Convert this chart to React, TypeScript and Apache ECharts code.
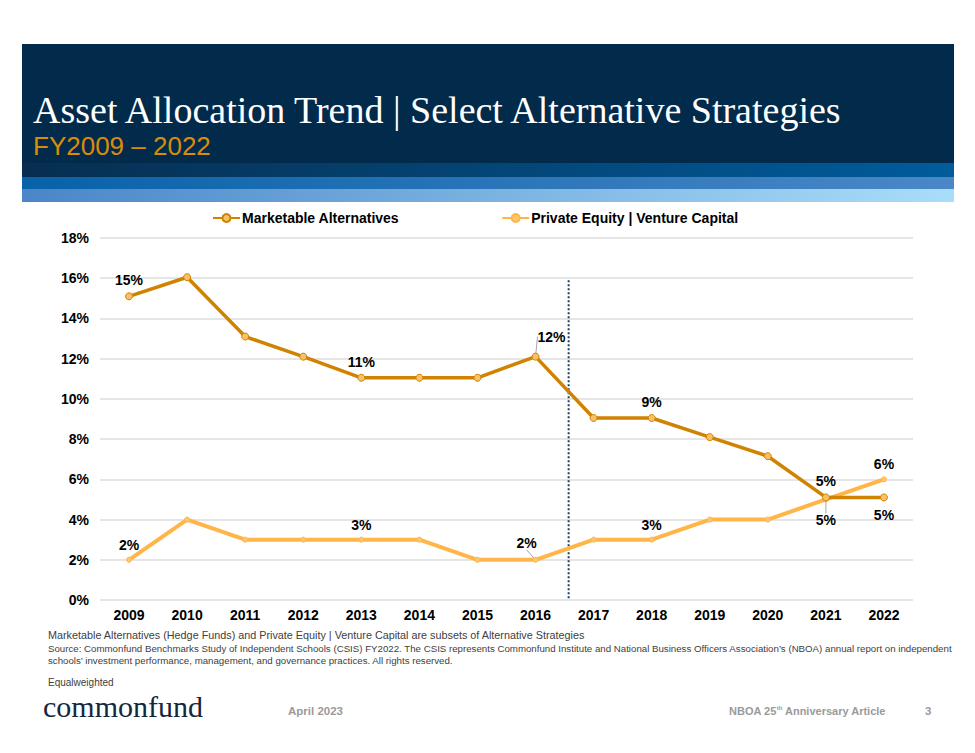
import React, { useEffect, useRef } from "react";
import * as echarts from "echarts";

const years = ["2009", "2010", "2011", "2012", "2013", "2014", "2015", "2016", "2017", "2018", "2019", "2020", "2021", "2022"];
const marketableAlternatives = [15.1, 16.05, 13.1, 12.1, 11.05, 11.05, 11.05, 12.1, 9.05, 9.05, 8.1, 7.15, 5.1, 5.1];
const privateEquityVC = [2, 4, 3, 3, 3, 3, 2, 2, 3, 3, 4, 4, 5, 6];
const maLabels: Record<number, string> = { 0: "15%", 4: "11%", 7: "12%", 9: "9%", 12: "5%", 13: "5%" };
const peLabels: Record<number, string> = { 0: "2%", 4: "3%", 7: "2%", 9: "3%", 12: "5%", 13: "6%" };
const yTicks = { min: 0, max: 18, interval: 2 };

const MA_COLOR = "#D08300";
const PE_COLOR = "#FFB547";
const FONT = "'Liberation Sans', Arial, sans-serif";
const NARROW = "'Liberation Sans Narrow', 'Liberation Sans', Arial, sans-serif";

export default function App() {
  const ref = useRef<HTMLDivElement>(null);
  useEffect(() => {
    document.body.style.margin = "0";
    const chart = echarts.init(ref.current!, null, { renderer: "svg" });

    const labelStyle = { fontFamily: FONT, fontWeight: "bold" as const, fontSize: 14, color: "#000" };

    const maData = marketableAlternatives.map((v, i) => {
      if (!maLabels[i]) return v;
      return {
        value: v,
        label: { show: true, formatter: maLabels[i], position: i === 13 ? "bottom" : "top", ...labelStyle, distance: i === 13 ? 7 : 5 },
        labelLine: i === 7 ? { show: true, lineStyle: { color: "#A6A6A6", width: 1 } } : undefined,
      };
    });
    const peData = privateEquityVC.map((v, i) => {
      if (!peLabels[i]) return v;
      return {
        value: v,
        label: { show: true, formatter: peLabels[i], position: i === 12 ? "bottom" : "top", ...labelStyle, distance: i === 12 ? 7 : 5 },
        labelLine: i === 7 || i === 12 ? { show: true, lineStyle: { color: "#A6A6A6", width: 1 } } : undefined,
      };
    });

    const header: any[] = [
      { type: "rect", shape: { x: 22, y: 44, width: 932, height: 120 }, style: { fill: "#022B4B" } },
      {
        type: "rect", shape: { x: 22, y: 163, width: 932, height: 14 },
        style: { fill: new echarts.graphic.LinearGradient(0, 0, 1, 0, [{ offset: 0, color: "#072E50" }, { offset: 1, color: "#005C9C" }]) },
      },
      {
        type: "rect", shape: { x: 22, y: 177, width: 932, height: 12 },
        style: { fill: new echarts.graphic.LinearGradient(0, 0, 1, 0, [{ offset: 0, color: "#0762A9" }, { offset: 1, color: "#4B87C7" }]) },
      },
      {
        type: "rect", shape: { x: 22, y: 189, width: 932, height: 13 },
        style: { fill: new echarts.graphic.LinearGradient(0, 0, 1, 0, [{ offset: 0, color: "#4A86C8" }, { offset: 1, color: "#AADDF9" }]) },
      },
      {
        type: "text", left: 33, top: 91,
        style: { text: "Asset Allocation Trend | Select Alternative Strategies", fill: "#FFFFFF", font: "38px 'Liberation Serif', 'DejaVu Serif', serif", lineHeight: 38 },
      },
      {
        type: "text", left: 33, top: 133,
        style: { text: "FY2009 – 2022", fill: "#D98B0A", font: "26px " + FONT, lineHeight: 26 },
      },
      {
        type: "text", left: 48, top: 629,
        style: { text: "Marketable Alternatives (Hedge Funds) and Private Equity | Venture Capital are subsets of Alternative Strategies", fill: "#404040", font: "10.8px " + NARROW },
      },
      {
        type: "text", left: 48, top: 643,
        style: { text: "Source: Commonfund Benchmarks Study of Independent Schools (CSIS) FY2022. The CSIS represents Commonfund Institute and National Business Officers Association’s (NBOA) annual report on independent", fill: "#404040", font: "9.7px " + NARROW },
      },
      {
        type: "text", left: 48, top: 655,
        style: { text: "schools’ investment performance, management, and governance practices. All rights reserved.", fill: "#404040", font: "9.7px " + NARROW },
      },
      {
        type: "text", left: 48, top: 677,
        style: { text: "Equalweighted", fill: "#404040", font: "10px " + NARROW },
      },
      {
        type: "text", left: 43, top: 691,
        style: { text: "commonfund", fill: "#14273F", font: "30px 'Liberation Serif', 'DejaVu Serif', serif" },
      },
      {
        type: "text", left: 288, top: 705,
        style: { text: "April 2023", fill: "#9A9A9A", font: "bold 11.5px " + NARROW },
      },
      {
        type: "text", left: 729, top: 705,
        style: {
          text: "{a|NBOA 25}{s|th}{a| Anniversary Article}",
          rich: {
            a: { fill: "#9A9A9A", font: "bold 11px " + NARROW, verticalAlign: "bottom" },
            s: { fill: "#9A9A9A", font: "bold 6px " + NARROW, verticalAlign: "top" },
          },
        },
      },
      {
        type: "text", left: 925, top: 705,
        style: { text: "3", fill: "#9A9A9A", font: "bold 11.5px " + NARROW },
      },
    ];

    const option: any = {
      animation: false,
      backgroundColor: "#FFFFFF",
      grid: { left: 100, right: 62, top: 238, bottom: 153, containLabel: false },
      legend: {
        top: 206, left: 207, itemGap: 102, itemWidth: 27, itemHeight: 10,
        textStyle: { fontFamily: FONT, fontWeight: "bold", fontSize: 14, color: "#000", padding: [0, 0, 0, -3] },
        data: ["Marketable Alternatives", "Private Equity | Venture Capital"],
      },
      xAxis: {
        type: "category", data: years, boundaryGap: true,
        axisLine: { show: false }, axisTick: { show: false },
        axisLabel: { fontFamily: FONT, fontWeight: "bold", fontSize: 14, color: "#000", margin: 8 },
      },
      yAxis: {
        type: "value", min: yTicks.min, max: yTicks.max, interval: yTicks.interval,
        axisLine: { show: false }, axisTick: { show: false },
        axisLabel: { formatter: "{value}%", fontFamily: FONT, fontWeight: "bold", fontSize: 14, color: "#000", margin: 11 },
        splitLine: { lineStyle: { color: "#DCDCDC", width: 1.5 } },
      },
      series: [
        {
          name: "Marketable Alternatives", type: "line", data: maData, z: 3,
          lineStyle: { color: MA_COLOR, width: 3.5 },
          itemStyle: { color: "#F8C167", borderColor: MA_COLOR, borderWidth: 1 },
          color: MA_COLOR,
          symbol: "circle", symbolSize: 7, showAllSymbol: true,
          labelLayout: (p: any) => (p.dataIndex === 7 ? { dx: 16, dy: -4 } : {}),
        },
        {
          name: "Private Equity | Venture Capital", type: "line", data: peData, z: 2,
          lineStyle: { color: PE_COLOR, width: 4 },
          itemStyle: { color: "#FFC66E", borderColor: PE_COLOR, borderWidth: 1 },
          color: PE_COLOR,
          symbol: "circle", symbolSize: 5, showAllSymbol: true,
          labelLayout: (p: any) => (p.dataIndex === 7 ? { dx: -9, dy: -2 } : p.dataIndex === 12 ? { dy: 4 } : {}),
        },
      ],
      graphic: header,
    };
    chart.setOption(option);

    const p7 = chart.convertToPixel({ xAxisIndex: 0 }, years[7]) as number;
    const p8 = chart.convertToPixel({ xAxisIndex: 0 }, years[8]) as number;
    const yTop = chart.convertToPixel({ yAxisIndex: 0 }, 15.9) as number;
    const yBottom = chart.convertToPixel({ yAxisIndex: 0 }, 0) as number;
    const xDiv = p7 + (p8 - p7) * 0.57;
    chart.setOption({
      graphic: [
        ...header,
        {
          type: "line", z: 1,
          shape: { x1: xDiv, y1: yTop, x2: xDiv, y2: yBottom },
          style: { stroke: "#1F3F60", lineWidth: 2, lineDash: [2, 2] },
        },
      ],
    });

    return () => chart.dispose();
  }, []);
  return <div ref={ref} style={{ position: "absolute", left: 0, top: 0, width: 975, height: 753 }} />;
}
